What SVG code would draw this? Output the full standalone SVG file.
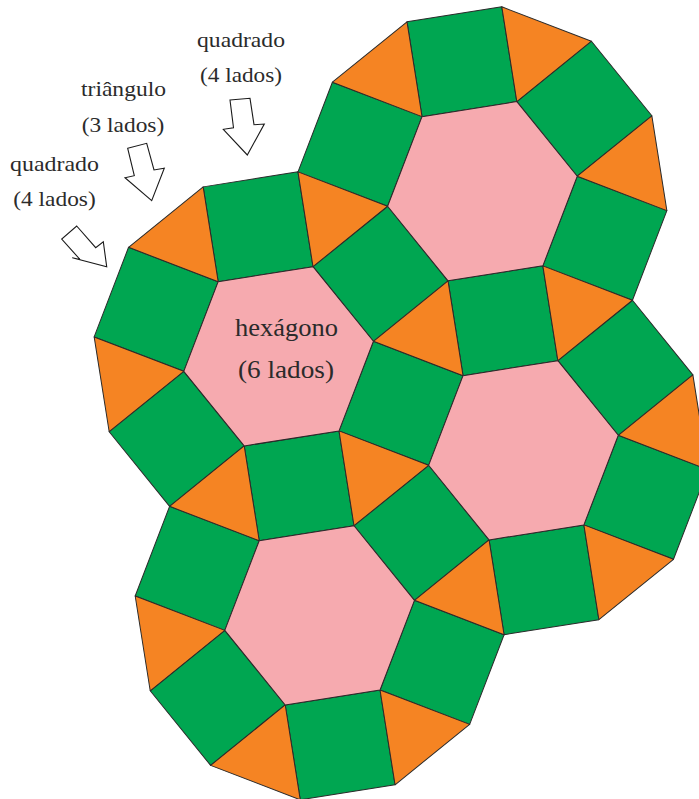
<svg xmlns="http://www.w3.org/2000/svg" xmlns:xlink="http://www.w3.org/1999/xlink" width="699" height="799" viewBox="0 0 699 799">
<style>
.hx{fill:#F6AAAF;stroke:#2a2a2a;stroke-width:1;stroke-linejoin:round}
.sq{fill:#00A651;stroke:#2a2a2a;stroke-width:1;stroke-linejoin:round}
.tr{fill:#F58423;stroke:#2a2a2a;stroke-width:1;stroke-linejoin:round}
.ar{fill:#ffffff;stroke:#1a1a1a;stroke-width:1.1;stroke-linejoin:miter}
.t{font-family:"Liberation Serif","Times New Roman",Times,"Nimbus Roman","Nimbus Roman No9 L",FreeSerif,"Noto Serif","DejaVu Serif",Georgia,serif;fill:#2b2b2b}
</style>
<defs>
<polygon id="hex" points="96,0 48,83.138 -48,83.138 -96,0 -48,-83.138 48,-83.138"/>
<polygon id="sqr" points="96,0 48,83.138 131.138,131.138 179.138,48"/>
<polygon id="tri" points="96,0 179.138,48 179.138,-48"/>
</defs>
<g id="squares">
<use xlink:href="#sqr" class="sq" transform="translate(278.6,356.3) rotate(-9)"/>
<use xlink:href="#sqr" class="sq" transform="translate(278.6,356.3) rotate(51)"/>
<use xlink:href="#sqr" class="sq" transform="translate(278.6,356.3) rotate(111)"/>
<use xlink:href="#sqr" class="sq" transform="translate(278.6,356.3) rotate(171)"/>
<use xlink:href="#sqr" class="sq" transform="translate(278.6,356.3) rotate(231)"/>
<use xlink:href="#sqr" class="sq" transform="translate(278.6,356.3) rotate(291)"/>
<use xlink:href="#sqr" class="sq" transform="translate(482.43,191.24) rotate(-9)"/>
<use xlink:href="#sqr" class="sq" transform="translate(482.43,191.24) rotate(51)"/>
<use xlink:href="#sqr" class="sq" transform="translate(482.43,191.24) rotate(171)"/>
<use xlink:href="#sqr" class="sq" transform="translate(482.43,191.24) rotate(231)"/>
<use xlink:href="#sqr" class="sq" transform="translate(482.43,191.24) rotate(291)"/>
<use xlink:href="#sqr" class="sq" transform="translate(523.46,450.29) rotate(-9)"/>
<use xlink:href="#sqr" class="sq" transform="translate(523.46,450.29) rotate(51)"/>
<use xlink:href="#sqr" class="sq" transform="translate(523.46,450.29) rotate(111)"/>
<use xlink:href="#sqr" class="sq" transform="translate(523.46,450.29) rotate(291)"/>
<use xlink:href="#sqr" class="sq" transform="translate(319.63,615.35) rotate(-9)"/>
<use xlink:href="#sqr" class="sq" transform="translate(319.63,615.35) rotate(51)"/>
<use xlink:href="#sqr" class="sq" transform="translate(319.63,615.35) rotate(111)"/>
<use xlink:href="#sqr" class="sq" transform="translate(319.63,615.35) rotate(171)"/>
</g>
<g id="triangles">
<use xlink:href="#tri" class="tr" transform="translate(278.6,356.3) rotate(-9)"/>
<use xlink:href="#tri" class="tr" transform="translate(278.6,356.3) rotate(51)"/>
<use xlink:href="#tri" class="tr" transform="translate(278.6,356.3) rotate(111)"/>
<use xlink:href="#tri" class="tr" transform="translate(278.6,356.3) rotate(171)"/>
<use xlink:href="#tri" class="tr" transform="translate(278.6,356.3) rotate(231)"/>
<use xlink:href="#tri" class="tr" transform="translate(278.6,356.3) rotate(291)"/>
<use xlink:href="#tri" class="tr" transform="translate(482.43,191.24) rotate(-9)"/>
<use xlink:href="#tri" class="tr" transform="translate(482.43,191.24) rotate(51)"/>
<use xlink:href="#tri" class="tr" transform="translate(482.43,191.24) rotate(231)"/>
<use xlink:href="#tri" class="tr" transform="translate(482.43,191.24) rotate(291)"/>
<use xlink:href="#tri" class="tr" transform="translate(523.46,450.29) rotate(-9)"/>
<use xlink:href="#tri" class="tr" transform="translate(523.46,450.29) rotate(51)"/>
<use xlink:href="#tri" class="tr" transform="translate(523.46,450.29) rotate(111)"/>
<use xlink:href="#tri" class="tr" transform="translate(319.63,615.35) rotate(51)"/>
<use xlink:href="#tri" class="tr" transform="translate(319.63,615.35) rotate(111)"/>
<use xlink:href="#tri" class="tr" transform="translate(319.63,615.35) rotate(171)"/>
</g>
<g id="hexagons">
<use id="hex1" xlink:href="#hex" class="hx" transform="translate(278.6,356.3) rotate(-9)"/>
<use id="hex2" xlink:href="#hex" class="hx" transform="translate(482.43,191.24) rotate(-9)"/>
<use id="hex3" xlink:href="#hex" class="hx" transform="translate(523.46,450.29) rotate(-9)"/>
<use id="hex4" xlink:href="#hex" class="hx" transform="translate(319.63,615.35) rotate(-9)"/>
</g>
<g id="hex-label">
<text class="t" font-size="25" x="235" y="336" textLength="103" lengthAdjust="spacingAndGlyphs">hexágono</text>
<text class="t" font-size="25" x="238" y="378.3" textLength="96" lengthAdjust="spacingAndGlyphs">(6 lados)</text>
</g>
<g id="label-square-top">
<text class="t" font-size="22" x="197" y="46.7" textLength="88" lengthAdjust="spacingAndGlyphs">quadrado</text>
<text class="t" font-size="22" x="200" y="82.3" textLength="82" lengthAdjust="spacingAndGlyphs">(4 lados)</text>
<polygon class="ar" points="230,100 250,98.3 254,124.7 264.3,124 247.3,155 223.3,129.3 233.5,127.7"/>
</g>
<g id="label-triangle">
<text class="t" font-size="22" x="81" y="96" textLength="85" lengthAdjust="spacingAndGlyphs">triângulo</text>
<text class="t" font-size="22" x="81.7" y="131.7" textLength="82.6" lengthAdjust="spacingAndGlyphs">(3 lados)</text>
<polygon class="ar" points="127.7,148.3 146.7,143.3 154,170 164.3,168.3 151.7,200.7 125,177.7 134.3,175.7"/>
</g>
<g id="label-square-left">
<text class="t" font-size="22" x="10" y="170.7" textLength="89" lengthAdjust="spacingAndGlyphs">quadrado</text>
<text class="t" font-size="22" x="13.3" y="206" textLength="82.4" lengthAdjust="spacingAndGlyphs">(4 lados)</text>
<polygon class="ar" points="76.7,226 95.7,247.7 103.3,241.7 106.7,266.7 72.3,257.7 80,259.5 61.7,239"/>
</g>
</svg>
